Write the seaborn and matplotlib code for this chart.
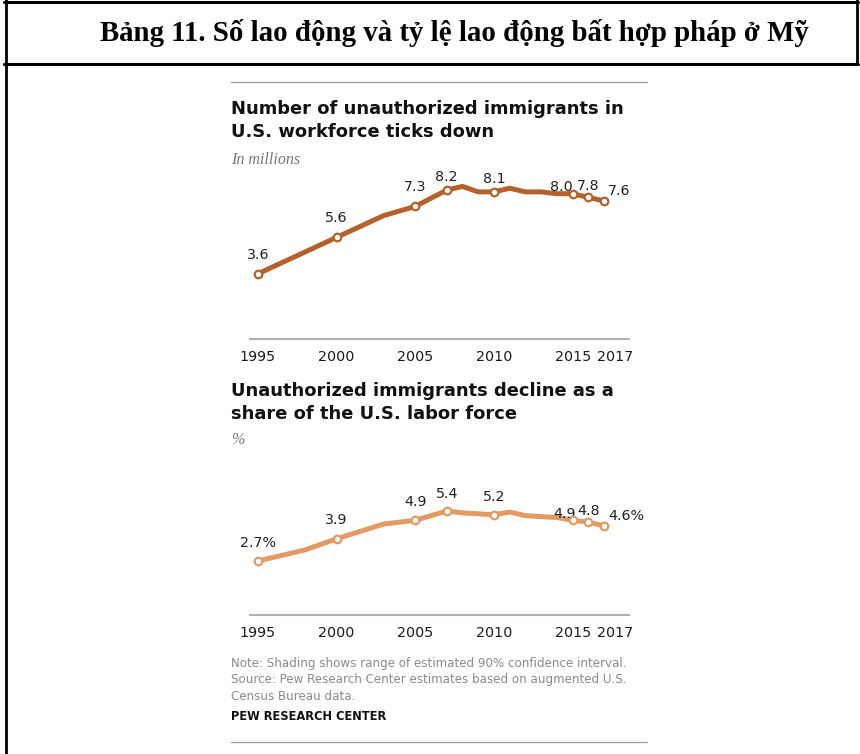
import seaborn as sns
import matplotlib.pyplot as plt
import matplotlib.transforms as mtransforms
from matplotlib.lines import Line2D

# data
years = [1995, 1998, 2000, 2003, 2005, 2007, 2008, 2009, 2010, 2011, 2012, 2013, 2014, 2015, 2016, 2017]
workers = [3.6, 4.8, 5.6, 6.8, 7.3, 8.2, 8.4, 8.1, 8.1, 8.3, 8.1, 8.1, 8.0, 8.0, 7.8, 7.6]
share = [2.7, 3.3, 3.9, 4.7, 4.9, 5.4, 5.3, 5.25, 5.2, 5.35, 5.15, 5.1, 5.05, 4.9, 4.8, 4.6]
label_years = [1995, 2000, 2005, 2007, 2010, 2015, 2016, 2017]
workers_labels = ["3.6", "5.6", "7.3", "8.2", "8.1", "8.0", "7.8", "7.6"]
share_labels = ["2.7%", "3.9", "4.9", "5.4", "5.2", "4.9", "4.8", "4.6%"]
tick_years = [1995, 2000, 2005, 2010, 2015, 2017]

sns.set_style("white")
plt.rcParams['font.family'] = ['DejaVu Sans']

W, H = 860, 754
fig = plt.figure(figsize=(8.6, 7.54), dpi=100)

def fx(x):
    return x / W

def fy(y):
    return 1 - y / H

# frame of the table
def hline(x0, x1, y, lw, c):
    fig.add_artist(Line2D([fx(x0), fx(x1)], [fy(y), fy(y)], lw=lw, color=c))

def vline(x, y0, y1, lw, c):
    fig.add_artist(Line2D([fx(x), fx(x)], [fy(y0), fy(y1)], lw=lw, color=c))

hline(4, 858, 2, 2.2, "black")
hline(4, 858, 64, 2.2, "black")
vline(6, 0, 754, 2.0, "black")
vline(857, 0, 64, 2.0, "black")

fig.text(fx(454), fy(33), "Bảng 11. Số lao động và tỷ lệ lao động bất hợp pháp ở Mỹ",
         ha="center", va="center", fontsize=20.8, fontweight="bold", color="black",
         family=["Liberation Serif", "DejaVu Serif"])

# pew rules
hline(231, 647, 82, 1.0, "#a0a0a0")
hline(231, 647, 742, 1.0, "#a0a0a0")

title_kw = dict(ha="left", va="center", fontsize=12.9, fontweight="bold", color="#111111")
fig.text(fx(231), fy(109), "Number of unauthorized immigrants in", **title_kw)
fig.text(fx(231), fy(132), "U.S. workforce ticks down", **title_kw)
fig.text(fx(231), fy(160), "In millions", ha="left", va="center", fontsize=11.5,
         style="italic", color="#777777", family=["Liberation Serif"])

fig.text(fx(231), fy(391), "Unauthorized immigrants decline as a", **title_kw)
fig.text(fx(231), fy(414), "share of the U.S. labor force", **title_kw)
fig.text(fx(231), fy(440), "%", ha="left", va="center", fontsize=11.5,
         style="italic", color="#777777", family=["Liberation Serif"])

note_kw = dict(ha="left", va="center", fontsize=8.6, color="#8a8a8a")
fig.text(fx(231), fy(664), "Note: Shading shows range of estimated 90% confidence interval.", **note_kw)
fig.text(fx(231), fy(680), "Source: Pew Research Center estimates based on augmented U.S.", **note_kw)
fig.text(fx(231), fy(697), "Census Bureau data.", **note_kw)
fig.text(fx(231), fy(717), "PEW RESEARCH CENTER", ha="left", va="center", fontsize=8.3,
         fontweight="bold", color="#111111")

x0, x1 = 250, 629
xlim = (1994.5, 2018.58)

def panel(top, bottom, ylim, values, labels, color, offsets):
    ax = fig.add_axes([fx(x0), fy(bottom), (x1 - x0) / W, (bottom - top) / H])
    sns.lineplot(x=years, y=values, ax=ax, color=color, lw=3.6, solid_capstyle="round",
                 solid_joinstyle="round")
    lv = [values[years.index(y)] for y in label_years]
    sns.scatterplot(x=label_years, y=lv, ax=ax, s=30, color="white",
                    edgecolor=color, linewidth=1.6, zorder=5)
    for yr, v, t, (dx, dy, ha) in zip(label_years, lv, labels, offsets):
        ax.annotate(t, (yr, v), xytext=(dx, dy), textcoords="offset pixels",
                    ha=ha, va="center", fontsize=10.3, color="#222222")
    ax.set_xlim(*xlim)
    ax.set_ylim(*ylim)
    ax.set_yticks([])
    ax.set_xticks(tick_years, labels=[str(t) for t in tick_years])
    ax.tick_params(axis="x", length=0, pad=8, labelsize=10.3, labelcolor="#1a1a1a")
    for s in ["top", "left", "right"]:
        ax.spines[s].set_visible(False)
    ax.spines["bottom"].set_color("#b0b0b0")
    ax.spines["bottom"].set_linewidth(1.5)
    ax.set_xlabel("")
    ax.set_ylabel("")
    lab = ax.get_xticklabels()[-1]
    lab.set_transform(lab.get_transform() + mtransforms.ScaledTranslation(0.11, 0, fig.dpi_scale_trans))
    ax.patch.set_alpha(0)
    return ax

top_off = [(0, 19, "center"), (0, 19, "center"), (0, 19, "center"), (0, 13, "center"),
           (0, 13, "center"), (-11, 7, "center"), (0, 11, "center"), (4, 10, "left")]
bot_off = [(0, 18, "center"), (0, 19, "center"), (0, 18, "center"), (0, 17, "center"),
           (0, 18, "center"), (-8, 6, "center"), (0, 11, "center"), (4, 10, "left")]

panel(180, 339.3, (0, 159.3 / 18.2), workers, workers_labels, "#b5612b", top_off)
panel(490, 615, (2.7 - 54 / 18.5, 2.7 + 71 / 18.5), share, share_labels, "#e49b63", bot_off)

fig.savefig("out.png", dpi=100)
